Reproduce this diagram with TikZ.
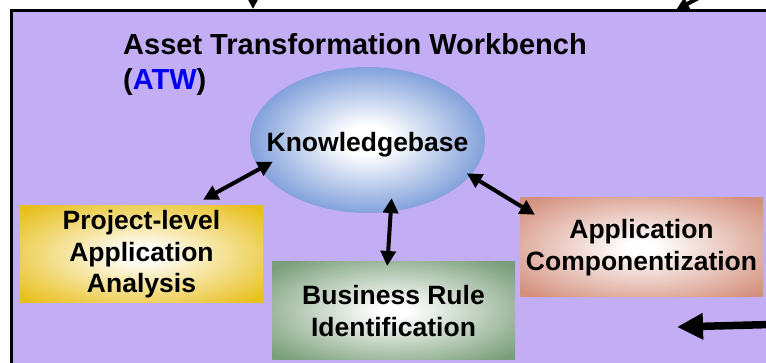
\documentclass[tikz,border=0pt]{standalone}
\usepackage{fontspec}
\setmainfont{Liberation Sans}
\usetikzlibrary{arrows.meta,shapes.geometric,positioning}

\definecolor{atwpurple}{RGB}{195,174,246}
\definecolor{atwblue}{RGB}{0,0,240}
\definecolor{projgold}{RGB}{232,192,30}
\definecolor{rulegreen}{RGB}{122,158,122}
\definecolor{compsalmon}{RGB}{212,144,126}
\definecolor{kbblue}{RGB}{100,138,210}

\pgfdeclareradialshading{projglow}{\pgfpoint{0bp}{0bp}}{color(0bp)=(white); color(3bp)=(white); color(33bp)=(projgold); color(75bp)=(projgold)}
\pgfdeclareradialshading{ruleglow}{\pgfpoint{0bp}{0bp}}{color(0bp)=(white); color(3bp)=(white); color(33bp)=(rulegreen); color(75bp)=(rulegreen)}
\pgfdeclareradialshading{compglow}{\pgfpoint{0bp}{0bp}}{color(0bp)=(white); color(3bp)=(white); color(33bp)=(compsalmon); color(75bp)=(compsalmon)}
\pgfdeclareradialshading{kbglow}{\pgfpoint{0bp}{0bp}}{color(0bp)=(white); color(5bp)=(white); color(30bp)=(kbblue); color(50bp)=(kbblue!90!black)}

\begin{document}
\begin{tikzpicture}[x=1pt, y=-1pt,
    panel/.style={draw, line width=3pt, fill=atwpurple, inner sep=0pt, outer sep=0pt, anchor=north west},
    titletext/.style={font=\fontsize{29}{35}\selectfont\bfseries, inner sep=0pt, anchor=base west},
    box/.style={shade, inner sep=0pt, outer sep=0pt, minimum width=243pt, align=center, font=\fontsize{26.5}{31.5}\selectfont\bfseries},
    kbnode/.style={ellipse, shade, shading=kbglow, inner sep=0pt, outer sep=0pt, minimum width=235pt, minimum height=146pt},
    kbtext/.style={font=\fontsize{26.5}{31.5}\selectfont\bfseries, inner sep=0pt, yshift=-5pt},
    link/.style={{Triangle[length=15pt,width=15pt]}-{Triangle[length=15pt,width=15pt]}, line width=4pt},
    feed/.style={-{Triangle[length=13pt,width=13pt]}, line width=4pt},
    bigfeed/.style={-{Triangle[length=26pt,width=25pt]}, line width=7.5pt}]

    \useasboundingbox (0,0) rectangle (766,363);
    \fill[white] (0,0) rectangle (766,363);
    \clip (0,0) rectangle (766,363);

    \node[panel, minimum width=756pt, minimum height=400pt] (atw) at (11,11) {};

    \node[titletext] (title) at (123,55) {Asset Transformation Workbench};
    \node[titletext] (abbr) at ([yshift=-35pt]title.base west) {(\textcolor{atwblue}{ATW})};

    \node[kbnode, label={[kbtext]center:Knowledgebase}] (kb) at (367.5,140) {};

    \node[box, shading=projglow, minimum height=97pt] (proj) at (141.5,254.5) {Project-level\\Application\\Analysis};
    \node[box, shading=ruleglow, minimum height=98pt] (rule) at (393.5,311) {Business Rule\\Identification};
    \node[box, shading=compglow, minimum height=99pt] (comp) at (641.5,247.5) {Application\\Componentization};

    \draw[link, shorten <=-15pt, shorten >=13pt] (kb.195) -- (proj.44.5);
    \draw[link, shorten <=-13.5pt, shorten >=-4pt] (kb.288) -- (rule.97);
    \draw[link, shorten <=-4pt, shorten >=-17.5pt] (kb.341) -- (comp.161);

    \coordinate (fromtop) at (253,-30);
    \coordinate (fromcorner) at (762,-36);
    \coordinate (cornertip) at (676,10);
    \coordinate (fromright) at (790,324);
    \coordinate (righttip) at (677,327);

    \draw[feed, shorten >=2pt] (fromtop) -- (fromtop |- atw.north);
    \draw[feed] (fromcorner) -- (cornertip);
    \draw[bigfeed] (fromright) -- (righttip);
\end{tikzpicture}
\end{document}
